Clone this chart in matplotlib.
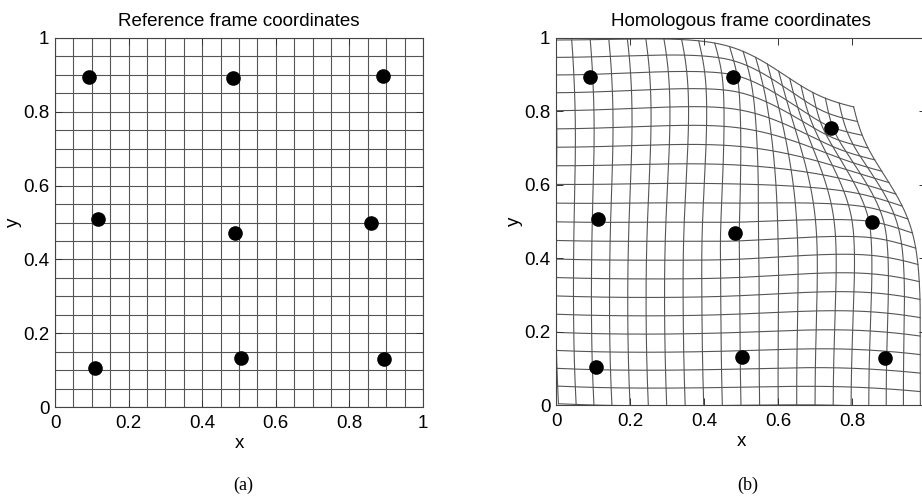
import numpy as np
import matplotlib
matplotlib.use('Agg')
import matplotlib.pyplot as plt

# Landmarks in the reference frame (panel a)
ref_x = [0.093, 0.485, 0.890, 0.116, 0.489, 0.858, 0.109, 0.505, 0.895]
ref_y = [0.894, 0.892, 0.897, 0.509, 0.471, 0.500, 0.107, 0.132, 0.131]

# Same landmarks in the homologous frame (panel b)
hom_x = [0.092, 0.479, 0.742, 0.114, 0.484, 0.853, 0.107, 0.503, 0.889]
hom_y = [0.895, 0.893, 0.756, 0.507, 0.468, 0.500, 0.103, 0.130, 0.127]

grid_lines = np.linspace(0, 1, 21)     # grid every 0.05
ticks = [0, 0.2, 0.4, 0.6, 0.8, 1]
tick_labels = ['0', '0.2', '0.4', '0.6', '0.8', '1']

plt.rcParams['font.family'] = ['Liberation Sans', 'DejaVu Sans']


def U(r):
    with np.errstate(divide='ignore', invalid='ignore'):
        v = r**2 * np.log(r)
    v[r == 0] = 0
    return v


def tps_fit(src, dst):
    n = len(src)
    d = np.sqrt(((src[:, None, :] - src[None, :, :])**2).sum(-1))
    K = U(d)
    P = np.hstack([np.ones((n, 1)), src])
    L = np.zeros((n + 3, n + 3))
    L[:n, :n] = K
    L[:n, n:] = P
    L[n:, :n] = P.T
    rhs = np.zeros((n + 3, 2))
    rhs[:n] = dst
    return np.linalg.solve(L, rhs)


def tps_apply(W, src, pts):
    n = len(src)
    d = np.sqrt(((pts[:, None, :] - src[None, :, :])**2).sum(-1))
    P = np.hstack([np.ones((len(pts), 1)), pts])
    return U(d) @ W[:n] + P @ W[n:]


src = np.column_stack([ref_x, ref_y])
dst = np.column_stack([hom_x, hom_y])
W = tps_fit(src, dst)

fig = plt.figure(figsize=(9.22, 4.97), dpi=100)
ax1 = fig.add_axes([55/922, 90/497, 368/922, 369/497])
ax2 = fig.add_axes([556/922, 92/497, 370/922, 367/497])

t = np.linspace(0, 1, 200)
grid_col = '#555555'
for g in grid_lines:
    # panel a: regular grid
    ax1.plot([g, g], [0, 1], color=grid_col, lw=0.8, zorder=1)
    ax1.plot([0, 1], [g, g], color=grid_col, lw=0.8, zorder=1)
    # panel b: warped grid
    v = tps_apply(W, src, np.column_stack([np.full_like(t, g), t]))
    h = tps_apply(W, src, np.column_stack([t, np.full_like(t, g)]))
    ax2.plot(v[:, 0], v[:, 1], color=grid_col, lw=0.8, zorder=1)
    ax2.plot(h[:, 0], h[:, 1], color=grid_col, lw=0.8, zorder=1)

ax1.plot(ref_x, ref_y, 'o', color='black', ms=9.5, zorder=3)
ax2.plot(hom_x, hom_y, 'o', color='black', ms=9.5, zorder=3)

for ax, title in [(ax1, 'Reference frame coordinates'), (ax2, 'Homologous frame coordinates')]:
    ax.set_xlim(0, 1)
    ax.set_ylim(0, 1)
    ax.set_xticks(ticks)
    ax.set_xticklabels(tick_labels)
    ax.set_yticks(ticks)
    ax.set_yticklabels(tick_labels)
    ax.tick_params(direction='in', length=5, width=0.7, top=True, right=True,
                   labelsize=13.5, pad=4, color='#333333')
    ax.tick_params(axis='x', pad=6)
    for s in ax.spines.values():
        s.set_color('#444444')
        s.set_linewidth(0.8)
    ax.set_title(title, fontsize=13.5, pad=9)
    ax.set_xlabel('x', fontsize=13.5, labelpad=2)
    ax.set_ylabel('y', fontsize=13.5, labelpad=1)

fig.text(243/922, 1 - 485/497, '(a)', fontsize=13, family='Liberation Serif', ha='center', va='center')
fig.text(748/922, 1 - 485/497, '(b)', fontsize=13, family='Liberation Serif', ha='center', va='center')

fig.savefig('out.png', dpi=100)
